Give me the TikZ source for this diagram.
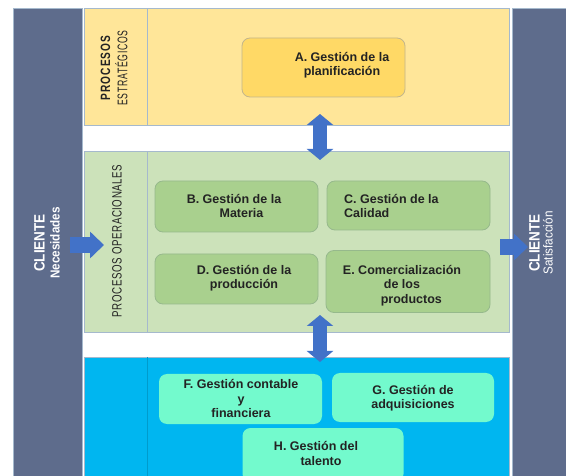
\documentclass[tikz,border=0pt]{standalone}
\usepackage{fontspec}
\setmainfont{Liberation Sans}
\usetikzlibrary{arrows.meta}

\definecolor{barblue}{RGB}{94,108,140}
\definecolor{bandedge}{RGB}{165,185,205}
\definecolor{estratfill}{RGB}{255,230,153}
\definecolor{planfill}{RGB}{255,217,102}
\definecolor{planedge}{RGB}{195,182,140}
\definecolor{operfill}{RGB}{204,226,186}
\definecolor{operbox}{RGB}{169,208,142}
\definecolor{operedge}{RGB}{150,185,140}
\definecolor{apoyofill}{RGB}{0,182,240}
\definecolor{apoyobox}{RGB}{115,250,205}
\definecolor{arrowblue}{RGB}{66,114,200}
\definecolor{txtgray}{RGB}{35,35,35}

\tikzstyle{band}=[rectangle, draw=bandedge, line width=1pt, inner sep=0pt]
\tikzstyle{clientbar}=[rectangle, fill=barblue, draw=bandedge, line width=1pt, inner sep=0pt]
\tikzstyle{procbox}=[rectangle, rounded corners=8pt, inner sep=0pt, line width=0.8pt]
\tikzstyle{boxtext}=[font=\fontsize{12.5}{14.5}\selectfont\bfseries, text=txtgray, align=center, inner sep=0pt]
\tikzstyle{sidelabel}=[rotate=90, align=center, text=white, inner sep=0pt]
\tikzstyle{bandlabel}=[rotate=90, align=center, text=txtgray, inner sep=0pt]
\tikzstyle{divider}=[draw=bandedge, line width=0.8pt]
\tikzstyle{dblarrow}=[line width=14pt, draw=arrowblue, {Triangle[width=26pt,length=11pt]}-{Triangle[width=26pt,length=11pt]}]
\tikzstyle{sglarrow}=[line width=16pt, draw=arrowblue, -{Triangle[width=26pt,length=14pt]}]

\begin{document}
\begin{tikzpicture}[x=1pt, y=-1pt]
    \useasboundingbox (0,0) rectangle (566,476);

    % client bars
    \node[clientbar, minimum width=69pt, minimum height=470pt] (necesidades) at (47.5,244) {};
    \node[clientbar, minimum width=56pt, minimum height=470pt] (satisfaccion) at (540,244) {};

    % process bands
    \node[band, fill=estratfill, minimum width=425pt, minimum height=117pt] (estrat) at (296.5,67.5) {};
    \node[band, fill=operfill, minimum width=425pt, minimum height=181pt] (oper) at (296.5,242.5) {};
    \node[band, fill=apoyofill, minimum width=425pt, minimum height=122pt] (apoyo) at (296.5,419) {};

    \draw[divider] ([xshift=64pt]estrat.north west) -- ([xshift=64pt]estrat.south west);
    \draw[divider] ([xshift=64pt]oper.north west) -- ([xshift=64pt]oper.south west);
    \draw[draw=apoyofill!85!black, line width=0.6pt] ([xshift=64pt]apoyo.north west) -- ([xshift=64pt]apoyo.south west);

    % band labels
    \node[bandlabel] (estratlabel) at (114,68)
        {\scalebox{0.75}[1]{\fontsize{13.5}{15}\selectfont\bfseries\addfontfeature{LetterSpace=10}PROCESOS}\\[4pt]
         \scalebox{0.62}[1]{\fontsize{14}{15}\selectfont\addfontfeature{LetterSpace=8}ESTRATÉGICOS}};
    \node[bandlabel] (operlabel) at (117,241)
        {\scalebox{0.72}[1]{\fontsize{13.5}{15}\selectfont\addfontfeature{LetterSpace=6}PROCESOS OPERACIONALES}};

    % client labels
    \node[sidelabel] (necesidadeslabel) at (47,243)
        {\scalebox{0.9}[1]{\fontsize{15}{17}\selectfont\bfseries CLIENTE}\\[3pt]
         \scalebox{0.9}[1]{\fontsize{13}{15}\selectfont\bfseries Necesidades}};
    \node[sidelabel] (satisfaccionlabel) at (541,243)
        {\scalebox{0.9}[1]{\fontsize{15}{17}\selectfont\bfseries CLIENTE}\\[1pt]
         \scalebox{0.9}[1]{\fontsize{13}{15}\selectfont Satisfacción}};

    % process boxes
    \node[procbox, fill=planfill, draw=planedge, minimum width=163pt, minimum height=59pt] (planif) at (323.5,67.5) {};
    \node[boxtext] at (342,65) {A. Gestión de la\\planificación};

    \node[procbox, fill=operbox, draw=operedge, minimum width=163pt, minimum height=51pt] (materia) at (236.5,206.5) {};
    \node[boxtext] at (234,206) {B. Gestión de la\\\hspace*{1.2em}Materia};

    \node[procbox, fill=operbox, draw=operedge, minimum width=163pt, minimum height=49pt] (calidad) at (408.5,205.5) {};
    \node[boxtext, align=left, anchor=west] at (344,206) {C. Gestión de la\\Calidad};

    \node[procbox, fill=operbox, draw=operedge, minimum width=163pt, minimum height=50pt] (produccion) at (236.5,279) {};
    \node[boxtext] at (244,278) {D. Gestión de la\\producción};

    \node[procbox, fill=operbox, draw=operedge, minimum width=164pt, minimum height=62pt] (comercial) at (408,281.5) {};
    \node[boxtext] at (402,285.5) {E. Comercialización\\de los\\\hspace*{1.5em}productos};

    \node[procbox, fill=apoyobox, minimum width=163pt, minimum height=50pt] (contable) at (240.5,399) {};
    \node[boxtext] at (241,398.5) {F. Gestión contable\\y\\financiera};

    \node[procbox, fill=apoyobox, minimum width=162pt, minimum height=49pt] (adquis) at (413,397.5) {};
    \node[boxtext] at (413,398) {G. Gestión de\\adquisiciones};

    \node[procbox, fill=apoyobox, minimum width=161pt, minimum height=54pt] (talento) at (323,455) {};
    \node[boxtext] at (316,453.5) {H. Gestión del\\\hspace*{0.8em}talento};

    % arrows between bands and clients
    \coordinate (estratlow) at (320,114);
    \coordinate (operhigh) at (320,160);
    \coordinate (operlow) at (320,315);
    \coordinate (apoyohigh) at (320,362);
    \draw[dblarrow] (estratlow) -- (operhigh);
    \draw[dblarrow] (operlow) -- (apoyohigh);

    \coordinate (needsout) at (70,245);
    \coordinate (operin) at (104,245);
    \coordinate (operout) at (500,247);
    \coordinate (satisin) at (528,247);
    \draw[sglarrow] (needsout) -- (operin);
    \draw[sglarrow] (operout) -- (satisin);
\end{tikzpicture}
\end{document}
